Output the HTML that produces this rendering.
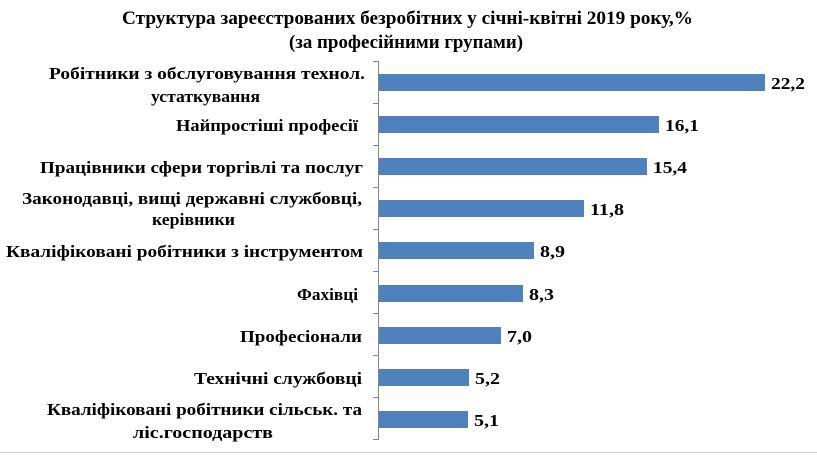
<!DOCTYPE html>
<html><head><meta charset="utf-8"><style>
html,body{margin:0;padding:0;background:#fff;}
svg{display:block;}
text{font-family:"Liberation Serif","DejaVu Serif",serif;font-weight:bold;fill:#000;}
</style></head><body>
<svg width="817" height="455" viewBox="0 0 817 455" xmlns="http://www.w3.org/2000/svg">
<rect x="0" y="0" width="817" height="455" fill="#fff"/>
<line x1="0" y1="452.5" x2="817" y2="452.5" stroke="#d0d0d0" stroke-width="1"/>
<text x="122" y="24" font-size="19" textLength="571" lengthAdjust="spacingAndGlyphs">Структура зареєстрованих безробітних у січні-квітні  2019 року,%</text>
<text x="289" y="48" font-size="19" textLength="234" lengthAdjust="spacingAndGlyphs">(за професійними групами)</text>
<g stroke="#868686" stroke-width="1">
<line x1="378.5" y1="61" x2="378.5" y2="440"/>
<line x1="373" y1="61.5" x2="378" y2="61.5"/>
<line x1="373" y1="103.5" x2="378" y2="103.5"/>
<line x1="373" y1="145.5" x2="378" y2="145.5"/>
<line x1="373" y1="187.5" x2="378" y2="187.5"/>
<line x1="373" y1="229.5" x2="378" y2="229.5"/>
<line x1="373" y1="271.5" x2="378" y2="271.5"/>
<line x1="373" y1="313.5" x2="378" y2="313.5"/>
<line x1="373" y1="355.5" x2="378" y2="355.5"/>
<line x1="373" y1="397.5" x2="378" y2="397.5"/>
<line x1="373" y1="439.5" x2="378" y2="439.5"/>
</g>
<g fill="#4f81bd">
<rect x="379" y="74" width="386" height="17"/>
<rect x="379" y="116" width="280" height="17"/>
<rect x="379" y="158" width="268" height="17"/>
<rect x="379" y="200" width="205" height="17"/>
<rect x="379" y="242" width="155" height="17"/>
<rect x="379" y="285" width="144" height="17"/>
<rect x="379" y="327" width="122" height="17"/>
<rect x="379" y="369" width="90" height="17"/>
<rect x="379" y="411" width="89" height="17"/>
</g>
<g font-size="17">
<text x="771" y="89" textLength="34" lengthAdjust="spacingAndGlyphs">22,2</text>
<text x="665" y="131" textLength="34" lengthAdjust="spacingAndGlyphs">16,1</text>
<text x="653" y="173" textLength="34" lengthAdjust="spacingAndGlyphs">15,4</text>
<text x="590" y="215" textLength="34" lengthAdjust="spacingAndGlyphs">11,8</text>
<text x="540" y="257" textLength="25" lengthAdjust="spacingAndGlyphs">8,9</text>
<text x="529" y="300" textLength="25" lengthAdjust="spacingAndGlyphs">8,3</text>
<text x="507" y="342" textLength="25" lengthAdjust="spacingAndGlyphs">7,0</text>
<text x="475" y="384" textLength="25" lengthAdjust="spacingAndGlyphs">5,2</text>
<text x="474" y="426" textLength="25" lengthAdjust="spacingAndGlyphs">5,1</text>
</g>
<g font-size="17">
<text x="49" y="79" textLength="316" lengthAdjust="spacingAndGlyphs">Робітники з обслуговування технол.</text>
<text x="151" y="102" textLength="109" lengthAdjust="spacingAndGlyphs">устаткування</text>
<text x="176" y="131" textLength="182" lengthAdjust="spacingAndGlyphs">Найпростіші професії</text>
<text x="40" y="173" textLength="323" lengthAdjust="spacingAndGlyphs">Працівники сфери торгівлі та послуг</text>
<text x="22" y="204" textLength="340" lengthAdjust="spacingAndGlyphs">Законодавці, вищі державні службовці,</text>
<text x="152" y="225" textLength="83" lengthAdjust="spacingAndGlyphs">керівники</text>
<text x="6" y="257" textLength="357" lengthAdjust="spacingAndGlyphs">Кваліфіковані робітники з інструментом</text>
<text x="297" y="300" textLength="61" lengthAdjust="spacingAndGlyphs">Фахівці</text>
<text x="240" y="342" textLength="122" lengthAdjust="spacingAndGlyphs">Професіонали</text>
<text x="194" y="384" textLength="168" lengthAdjust="spacingAndGlyphs">Технічні службовці</text>
<text x="47" y="415" textLength="315" lengthAdjust="spacingAndGlyphs">Кваліфіковані робітники сільськ. та</text>
<text x="133" y="438" textLength="140" lengthAdjust="spacingAndGlyphs">ліс.господарств</text>
</g>
</svg>
</body></html>
